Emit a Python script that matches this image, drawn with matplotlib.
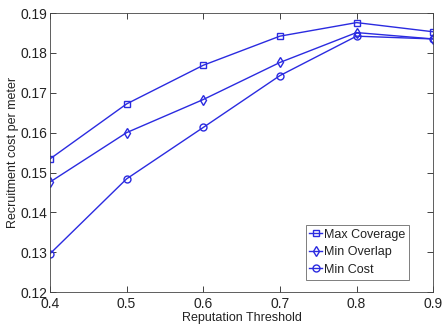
import matplotlib
matplotlib.use('Agg')
import matplotlib.pyplot as plt

# Datos
thresholds = [0.4, 0.5, 0.6, 0.7, 0.8, 0.9]
max_coverage = [0.1534, 0.1672, 0.1769, 0.1842, 0.1876, 0.1853]
min_overlap = [0.1476, 0.1600, 0.1683, 0.1776, 0.1851, 0.1835]
min_cost = [0.1296, 0.1484, 0.1613, 0.1743, 0.1842, 0.1835]

plt.rcParams['font.family'] = ['Liberation Sans', 'DejaVu Sans']
plt.rcParams['font.size'] = 10

fig = plt.figure(figsize=(4.42, 3.26), dpi=100)
ax = fig.add_axes([0.113, 0.104, 0.867, 0.856])

color = '#2b2be0'
ax.plot(thresholds, max_coverage, marker='s', label='Max Coverage', color=color,
        linewidth=1.0, markersize=5, markerfacecolor='none')
ax.plot(thresholds, min_overlap, marker='d', label='Min Overlap', color=color,
        linewidth=1.0, markersize=5.5, markerfacecolor='none')
ax.plot(thresholds, min_cost, marker='o', label='Min Cost', color=color,
        linewidth=1.0, markersize=5, markerfacecolor='none')

ax.set_xlim(0.4, 0.9)
ax.set_ylim(0.12, 0.19)
ax.set_xticks(thresholds)
ax.set_yticks([0.12, 0.13, 0.14, 0.15, 0.16, 0.17, 0.18, 0.19])
ax.tick_params(direction='in', top=True, right=True, length=4, width=0.6,
               labelsize=10, colors='#222222')
ax.tick_params(axis='y', pad=2)
for s in ax.spines.values():
    s.set_linewidth(0.6)
    s.set_color('#444444')

ax.set_xlabel('Reputation Threshold', labelpad=1, color='#222222', fontsize=9)
ax.set_ylabel('Recruitment cost per meter', labelpad=1, color='#222222', fontsize=9)

leg = ax.legend(loc='lower right', bbox_to_anchor=(0.938, 0.045), fancybox=False,
                edgecolor='#444444', handlelength=1.0, handletextpad=0.2,
                borderpad=0.3, labelspacing=0.45, borderaxespad=0.0, fontsize=9)
leg.get_frame().set_linewidth(0.6)
for t in leg.get_texts():
    t.set_color('#222222')

plt.savefig('out.png', dpi=100)
